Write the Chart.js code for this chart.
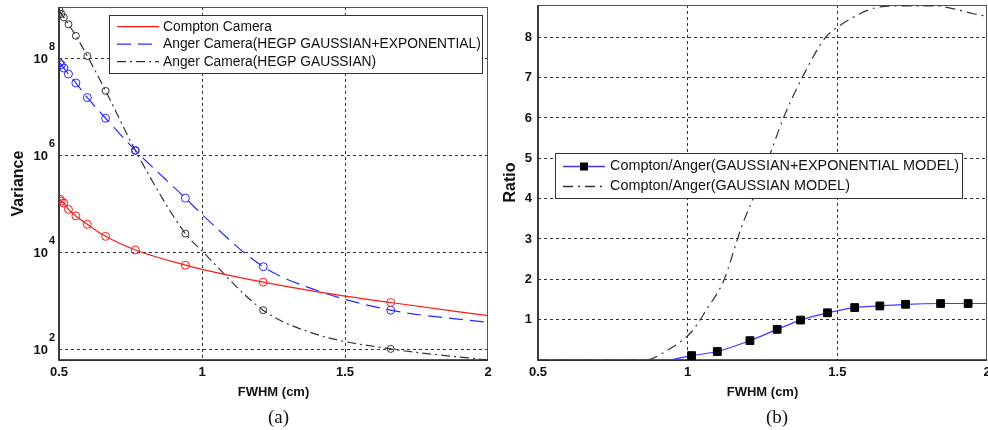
<!DOCTYPE html>
<html>
<head>
<meta charset="utf-8">
<script src="https://cdn.jsdelivr.net/npm/chart.js@4.4.0/dist/chart.umd.min.js"></script>
<style>
  html, body { margin: 0; padding: 0; background: #fff; }
  #wrap { position: relative; width: 988px; height: 430px; overflow: hidden; }
  .panel { position: absolute; top: 0; width: 494px; height: 430px; }
  .cap { position: absolute; top: 406px; line-height: 22px; font: 19px "Liberation Serif", "DejaVu Serif", serif; color: #111; }
</style>
</head>
<body>
<div id="wrap">
  <div class="panel" style="left:0"><canvas id="graficoA"></canvas></div>
  <div class="panel" style="left:494px"><canvas id="graficoB"></canvas></div>
  <div class="cap" style="left:268px">(a)</div>
  <div class="cap" style="left:766px">(b)</div>
</div>
<script>
// painel (a) - variancia x FWHM
const fwhmA = [0.502, 0.508, 0.517, 0.533, 0.559, 0.599, 0.663, 0.767, 0.942, 1.0, 1.214, 1.4, 1.66, 2.0];
const marcaA = [1, 1, 1, 1, 1, 1, 1, 1, 1, 0, 1, 0, 1, 0];
const varCompton = [1.29e5, 1.17e5, 1.07e5, 7.9e4, 5.8e4, 3.9e4, 2.2e4, 1.15e4, 5.6e3, 4.6e3, 2.5e3, 1.6e3, 9.5e2, 5.1e2];
const varAngerExp = [8.3e7, 7.6e7, 6.5e7, 4.9e7, 3.2e7, 1.6e7, 6.0e6, 1.3e6, 1.35e5, 6.2e4, 5.2e3, 1.7e3, 6.6e2, 3.7e2];
const varAngerGauss = [1.0e9, 8.5e8, 7.2e8, 5.2e8, 3.0e8, 1.15e8, 2.2e7, 1.3e6, 2.5e4, 1.1e4, 6.6e2, 2.1e2, 1.05e2, 62];

// painel (b) - razao x FWHM
const fwhmB1 = [0.5, 0.93, 1.013, 1.099, 1.208, 1.299, 1.377, 1.467, 1.558, 1.642, 1.728, 1.845, 1.937, 2.0];
const marcaB = [0, 0, 1, 1, 1, 1, 1, 1, 1, 1, 1, 1, 1, 0];
const ratioExp = [0, 0, 0.11, 0.21, 0.48, 0.76, 0.99, 1.17, 1.30, 1.34, 1.38, 1.40, 1.40, 1.40];
const fwhmB2 = [0.5, 0.857, 0.934, 1.013, 1.069, 1.119, 1.18, 1.235, 1.28, 1.32, 1.386, 1.458, 1.508, 1.552, 1.598, 1.649, 1.74, 1.826, 1.886, 1.952, 2.0];
const ratioGauss = [0, 0, 0.25, 0.70, 1.32, 1.94, 3.30, 4.3, 5.2, 6.0, 7.05, 7.97, 8.29, 8.49, 8.66, 8.76, 8.78, 8.78, 8.71, 8.59, 8.52];

// ticks
const ticksFwhm = [0.5, 1, 1.5, 2];
const ticksVar = [1e2, 1e4, 1e6, 1e8];
const expoentesVar = ['2', '4', '6', '8'];
const ticksRatio = [0, 1, 2, 3, 4, 5, 6, 7, 8];

const familia = '"Liberation Sans", Arial, sans-serif';
const fonteTick = { family: familia, size: 13, weight: 'bold' };
const corGrade = '#333';

function pontos(xs, ys) {
    return xs.map((x, i) => ({ x: x, y: ys[i] }));
}

// moldura em volta da area do grafico
const moldura = {
    id: 'moldura',
    beforeDatasetsDraw(chart) {
        const { ctx, chartArea: a } = chart;
        ctx.save();
        ctx.strokeStyle = '#555';
        ctx.lineWidth = 1;
        ctx.strokeRect(a.left, a.top + 0.5, a.right - a.left - 0.5, a.bottom - a.top);
        ctx.strokeStyle = '#222';
        ctx.lineWidth = 1.6;
        ctx.beginPath();
        ctx.moveTo(a.left, a.top);
        ctx.lineTo(a.left, a.bottom);
        ctx.lineTo(a.right, a.bottom);
        ctx.stroke();
        ctx.restore();
    }
};

// expoentes dos rotulos 10^n
const expoentes = {
    id: 'expoentes',
    afterDraw(chart) {
        const { ctx } = chart;
        const y = chart.scales.y;
        ctx.save();
        ctx.font = 'bold 11px ' + familia;
        ctx.fillStyle = '#111';
        ctx.textAlign = 'left';
        ctx.textBaseline = 'middle';
        ticksVar.forEach((v, i) => {
            ctx.fillText(expoentesVar[i], y.right - 10, y.getPixelForValue(v) - 12);
        });
        ctx.restore();
    }
};

// legenda dentro do grafico, estilo matlab
const legendaInterna = {
    id: 'legendaInterna',
    afterDraw(chart, args, o) {
        const ctx = chart.ctx;
        ctx.save();
        ctx.fillStyle = '#fff';
        ctx.fillRect(o.x, o.y, o.w, o.h);
        ctx.strokeStyle = '#333';
        ctx.lineWidth = 1;
        ctx.strokeRect(o.x + 0.5, o.y + 0.5, o.w, o.h);
        ctx.font = o.fonte + 'px ' + familia;
        ctx.textBaseline = 'middle';
        chart.data.datasets.forEach((ds, i) => {
            const y = o.y + o.topo + i * o.passo;
            ctx.strokeStyle = ds.borderColor;
            ctx.lineWidth = 1.3;
            ctx.setLineDash(ds.borderDash || []);
            ctx.beginPath();
            ctx.moveTo(o.x + o.l1, y);
            ctx.lineTo(o.x + o.l2, y);
            ctx.stroke();
            ctx.setLineDash([]);
            if (ds.pointStyle === 'rect') {
                const m = o.x + (o.l1 + o.l2) / 2;
                ctx.fillStyle = '#000';
                ctx.fillRect(m - 4, y - 4, 8, 8);
            }
            ctx.fillStyle = '#111';
            ctx.fillText(ds.label, o.x + o.tx, y);
        });
        ctx.restore();
    }
};

function eixoX(altura) {
    return {
        type: 'linear',
        min: 0.5,
        max: 2,
        afterBuildTicks: s => { s.ticks = ticksFwhm.map(v => ({ value: v })); },
        afterFit: s => { s.height = altura; s.paddingLeft = 0; s.paddingRight = 0; },
        grid: {
            drawTicks: false,
            lineWidth: 1,
            color: c => (c.tick && (c.tick.value === 0.5 || c.tick.value === 2)) ? 'rgba(0,0,0,0)' : corGrade
        },
        border: { display: false, dash: [3, 3] },
        ticks: { font: fonteTick, color: '#111', padding: 5, maxRotation: 0, callback: v => String(v) },
        title: { display: true, text: 'FWHM (cm)', font: fonteTick, color: '#111', padding: { top: 0, bottom: 0 } }
    };
}

// Grafico (a)
const graficoA = new Chart(document.getElementById('graficoA'), {
    type: 'line',
    data: {
        datasets: [{
            label: 'Compton Camera',
            data: pontos(fwhmA, varCompton),
            borderColor: '#ff1a1a',
            pointBorderColor: '#ff1a1a',
            pointRadius: marcaA.map(m => m ? 4 : 0)
        }, {
            label: 'Anger Camera(HEGP GAUSSIAN+EXPONENTIAL)',
            data: pontos(fwhmA, varAngerExp),
            borderColor: '#2a2aff',
            pointBorderColor: '#2a2aff',
            borderDash: [14, 7],
            pointRadius: marcaA.map(m => m ? 4 : 0)
        }, {
            label: 'Anger Camera(HEGP GAUSSIAN)',
            data: pontos(fwhmA, varAngerGauss),
            borderColor: '#333',
            pointBorderColor: '#333',
            borderDash: [9, 4, 2, 4],
            pointRadius: marcaA.map(m => m ? 3.5 : 0)
        }]
    },
    options: {
        animation: false,
        responsive: true,
        maintainAspectRatio: false,
        layout: { padding: { left: 0, right: 6, top: 7, bottom: 30 } },
        elements: {
            line: { borderWidth: 1.2, cubicInterpolationMode: 'monotone' },
            point: { backgroundColor: 'rgba(0,0,0,0)', borderWidth: 1, pointStyle: 'circle' }
        },
        plugins: {
            legend: { display: false },
            tooltip: { enabled: false },
            legendaInterna: { x: 109, y: 15, w: 373, h: 58, topo: 11.7, passo: 17.5, l1: 8, l2: 50, tx: 54, fonte: 13.8 }
        },
        scales: {
            x: eixoX(40),
            y: {
                type: 'logarithmic',
                min: 62,
                max: 1.18e9,
                afterBuildTicks: s => { s.ticks = ticksVar.map(v => ({ value: v })); },
                afterFit: s => { s.width = 59; s.paddingTop = 0; s.paddingBottom = 0; },
                grid: { drawTicks: false, lineWidth: 1, color: corGrade },
                border: { display: false, dash: [3, 3] },
                ticks: { font: fonteTick, color: '#111', padding: 11, callback: () => '10' },
                title: { display: true, text: 'Variance', font: { family: familia, size: 16, weight: 'bold' }, color: '#111', padding: { top: 9, bottom: 0 } }
            }
        }
    },
    plugins: [moldura, expoentes, legendaInterna]
});

// Grafico (b)
const graficoB = new Chart(document.getElementById('graficoB'), {
    type: 'line',
    data: {
        datasets: [{
            label: 'Compton/Anger(GAUSSIAN+EXPONENTIAL MODEL)',
            data: pontos(fwhmB1, ratioExp),
            borderColor: '#3b3bff',
            pointStyle: 'rect',
            pointBackgroundColor: '#000',
            pointBorderColor: '#000',
            pointRadius: marcaB.map(m => m ? 5.5 : 0)
        }, {
            label: 'Compton/Anger(GAUSSIAN MODEL)',
            data: pontos(fwhmB2, ratioGauss),
            borderColor: '#333',
            borderDash: [10, 5, 2, 5],
            pointRadius: 0
        }]
    },
    options: {
        animation: false,
        responsive: true,
        maintainAspectRatio: false,
        layout: { padding: { left: 0, right: 1, top: 5, bottom: 30 } },
        elements: {
            line: { borderWidth: 1.2, cubicInterpolationMode: 'monotone' },
            point: { borderWidth: 1 }
        },
        plugins: {
            legend: { display: false },
            tooltip: { enabled: false },
            legendaInterna: { x: 61, y: 153, w: 407, h: 45, topo: 13.5, passo: 20, l1: 8, l2: 50, tx: 55, fonte: 14.4 }
        },
        scales: {
            x: eixoX(40),
            y: {
                type: 'linear',
                min: 0,
                max: 8.8,
                afterBuildTicks: s => { s.ticks = ticksRatio.map(v => ({ value: v })); },
                afterFit: s => { s.width = 44; s.paddingTop = 0; s.paddingBottom = 0; },
                grid: {
                    drawTicks: false,
                    lineWidth: 1,
                    color: c => (c.tick && c.tick.value === 0) ? 'rgba(0,0,0,0)' : corGrade
                },
                border: { display: false, dash: [3, 3] },
                ticks: { font: fonteTick, color: '#111', padding: 6, callback: v => v === 0 ? '' : String(v) },
                title: { display: true, text: 'Ratio', font: { family: familia, size: 16, weight: 'bold' }, color: '#111', padding: { top: 7, bottom: 0 } }
            }
        }
    },
    plugins: [moldura, legendaInterna]
});
</script>
</body>
</html>
